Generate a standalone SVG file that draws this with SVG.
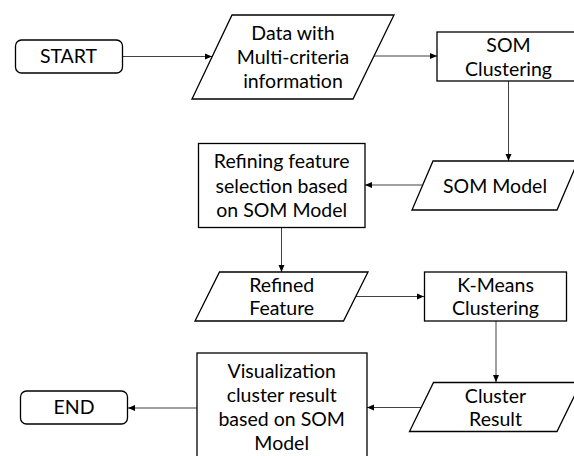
<svg xmlns="http://www.w3.org/2000/svg" width="574" height="456" viewBox="0 0 574 456">
<defs>
<style>
.shape{fill:#fff;stroke:#000;stroke-width:1.3}
.t{font-family:Lato,"Liberation Sans",sans-serif;font-size:19.5px;fill:#000;text-anchor:middle}
.c{fill:none;stroke:#404040;stroke-width:1}
</style>
<marker id="ah" markerWidth="8" markerHeight="8" refX="7" refY="4" orient="auto" markerUnits="userSpaceOnUse">
<path d="M0,1 L7,4 L0,7 Z" fill="#000"/>
</marker>
</defs>
<rect width="574" height="456" fill="#fff"/>
<g id="connectors">
<line class="c" x1="123" y1="56.5" x2="212" y2="56.5" marker-end="url(#ah)"/>
<line class="c" x1="374" y1="56" x2="437" y2="56" marker-end="url(#ah)"/>
<line class="c" x1="508.5" y1="81" x2="508.5" y2="161" marker-end="url(#ah)"/>
<line class="c" x1="422" y1="185" x2="365" y2="185" marker-end="url(#ah)"/>
<line class="c" x1="281.5" y1="227" x2="281.5" y2="272" marker-end="url(#ah)"/>
<line class="c" x1="356" y1="296.5" x2="424" y2="296.5" marker-end="url(#ah)"/>
<line class="c" x1="496" y1="321" x2="496" y2="382" marker-end="url(#ah)"/>
<line class="c" x1="421" y1="407.5" x2="367" y2="407.5" marker-end="url(#ah)"/>
<line class="c" x1="197" y1="408" x2="128" y2="408" marker-end="url(#ah)"/>
</g>
<g id="start">
<rect class="shape" x="15.5" y="40" width="107" height="33" rx="6"/>
<text class="t" x="68.5" y="63">START</text>
</g>
<g id="data">
<polygon class="shape" points="232,15 394,15 353,99 192,99"/>
<text class="t" x="293" y="40">Data with</text>
<text class="t" x="293" y="64">Multi-criteria</text>
<text class="t" x="293" y="88">information</text>
</g>
<g id="som-clustering">
<rect class="shape" x="437" y="32" width="144" height="49"/>
<text class="t" x="508.5" y="52">SOM</text>
<text class="t" x="508.5" y="75.5">Clustering</text>
</g>
<g id="som-model">
<polygon class="shape" points="433,161 578,161 557,210 412,210"/>
<text class="t" x="495" y="192.5">SOM Model</text>
</g>
<g id="refining">
<rect class="shape" x="198.5" y="143.5" width="166.5" height="84"/>
<text class="t" x="281.7" y="168">Refining feature</text>
<text class="t" x="281.7" y="192.5">selection based</text>
<text class="t" x="281.7" y="216.5">on SOM Model</text>
</g>
<g id="refined-feature">
<polygon class="shape" points="219.5,272 368,272 343.5,321 195,321"/>
<text class="t" x="281.7" y="291.5">Refined</text>
<text class="t" x="281.7" y="315">Feature</text>
</g>
<g id="kmeans">
<rect class="shape" x="424.5" y="272" width="142" height="49"/>
<text class="t" x="495.5" y="291.5">K-Means</text>
<text class="t" x="495.5" y="315">Clustering</text>
</g>
<g id="cluster-result">
<polygon class="shape" points="433.5,382.5 581,382.5 557,431.5 409.5,431.5"/>
<text class="t" x="495.5" y="403">Cluster</text>
<text class="t" x="495.5" y="425.5">Result</text>
</g>
<g id="visualization">
<rect class="shape" x="197" y="353" width="170" height="110"/>
<text class="t" x="281.7" y="378">Visualization</text>
<text class="t" x="281.7" y="402">cluster result</text>
<text class="t" x="281.7" y="426">based on SOM</text>
<text class="t" x="281.7" y="449.5">Model</text>
</g>
<g id="end">
<rect class="shape" x="20.5" y="391" width="107" height="33" rx="6"/>
<text class="t" x="74" y="414">END</text>
</g>
</svg>
